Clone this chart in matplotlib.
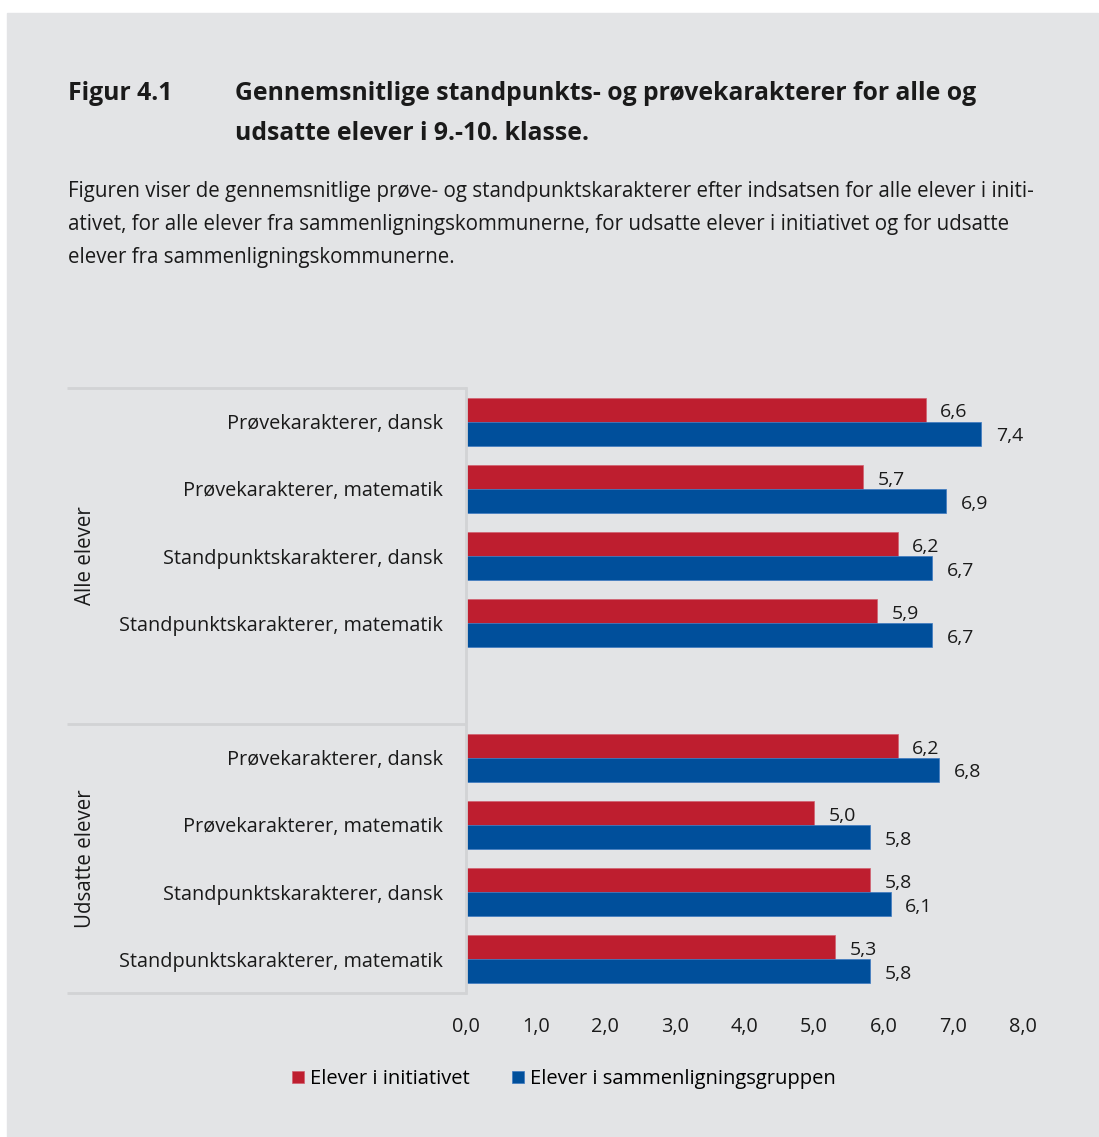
import matplotlib.pyplot as plt
from matplotlib.patches import Rectangle

# categories and values
groups = ['Alle elever', 'Udsatte elever']
categories = ['Prøvekarakterer, dansk', 'Prøvekarakterer, matematik',
              'Standpunktskarakterer, dansk', 'Standpunktskarakterer, matematik']
initiativ = [6.6, 5.7, 6.2, 5.9, 6.2, 5.0, 5.8, 5.3]
sammenligning = [7.4, 6.9, 6.7, 6.7, 6.8, 5.8, 6.1, 5.8]
series_names = ['Elever i initiativet', 'Elever i sammenligningsgruppen']
xticks = [0, 1, 2, 3, 4, 5, 6, 7, 8]

RED = '#BE1E2F'
BLUE = '#004F9B'
BG = '#E3E4E6'
LINE = '#D2D3D5'
TXT = '#1A1A1A'

plt.rcParams['font.family'] = ['Open Sans', 'DejaVu Sans']

W, H = 1099, 1137
fig = plt.figure(figsize=(W / 100, H / 100), dpi=100)
fig.patch.set_facecolor('white')
fig.patches.append(Rectangle((7 / W, 0), (1098 - 7) / W, 1 - 13 / H,
                             transform=fig.transFigure, color=BG, zorder=-10))

# title and subtitle
fig.text(68 / W, 1 - 93 / H, 'Figur 4.1', fontsize=17.8, fontweight='bold',
         va='center', color=TXT)
fig.text(235 / W, 1 - 93 / H, 'Gennemsnitlige standpunkts- og prøvekarakterer for alle og',
         fontsize=17.8, fontweight='bold', va='center', color=TXT)
fig.text(235 / W, 1 - 133 / H, 'udsatte elever i 9.-10. klasse.',
         fontsize=17.8, fontweight='bold', va='center', color=TXT)
sub = ['Figuren viser de gennemsnitlige prøve- og standpunktskarakterer efter indsatsen for alle elever i initi-',
       'ativet, for alle elever fra sammenligningskommunerne, for udsatte elever i initiativet og for udsatte',
       'elever fra sammenligningskommunerne.']
for i, line in enumerate(sub):
    fig.text(68 / W, 1 - (192 + i * 32.5) / H, line, fontsize=14.8,
             va='center', color=TXT)

# axes
left, right, top, bottom = 466, 1023, 388, 993
ax = fig.add_axes([left / W, 1 - bottom / H, (right - left) / W, (bottom - top) / H])
ax.set_facecolor('none')

# slot positions: 4 categories, one empty slot, 4 categories
pos = [0, 1, 2, 3, 5, 6, 7, 8]
labels = categories + categories
bh = 0.357
ax.barh([p - bh / 2 for p in pos], initiativ, height=bh, color=RED,
        label=series_names[0], edgecolor='#D06070', linewidth=0.5)
ax.barh([p + bh / 2 for p in pos], sammenligning, height=bh, color=BLUE,
        label=series_names[1], edgecolor='#3C78C0', linewidth=0.5)

for p, v in zip(pos, initiativ):
    ax.annotate(f'{v:.1f}'.replace('.', ','), (v, p - bh / 2), xytext=(10.5, -2),
                textcoords='offset points', va='center', ha='left',
                fontsize=14, color=TXT)
for p, v in zip(pos, sammenligning):
    ax.annotate(f'{v:.1f}'.replace('.', ','), (v, p + bh / 2), xytext=(10.5, -2),
                textcoords='offset points', va='center', ha='left',
                fontsize=14, color=TXT)

ax.set_xlim(0, 8)
ax.set_ylim(8.5, -0.5)
ax.set_yticks(pos)
ax.set_yticklabels(labels, fontsize=14.3, color=TXT)
ax.set_xticks(xticks)
ax.set_xticklabels([f'{t:.1f}'.replace('.', ',') for t in xticks], fontsize=14.3, color=TXT)
ax.tick_params(axis='both', length=0)
ax.tick_params(axis='y', pad=16.5)
ax.tick_params(axis='x', pad=17)
for s in ['top', 'right', 'bottom']:
    ax.spines[s].set_visible(False)
ax.spines['left'].set_color(LINE)
ax.spines['left'].set_linewidth(2)

# group separators extending left of the axis
x0 = (67 - left) / (right - left)
for yv in [-0.5, 4.5, 8.5]:
    ax.plot([x0, 0], [yv, yv], color=LINE, lw=2, transform=ax.get_yaxis_transform(),
            clip_on=False, solid_capstyle='butt')

# group labels
gx = (86 - left) / (right - left)
ax.text(gx, 2, groups[0], rotation=90, va='center', ha='center', fontsize=14.8,
        color=TXT, transform=ax.get_yaxis_transform())
ax.text(gx, 6.5, groups[1], rotation=90, va='center', ha='center', fontsize=14.8,
        color=TXT, transform=ax.get_yaxis_transform())

fig.legend(loc='center', bbox_to_anchor=(564 / W, 1 - 1079 / H), ncol=2,
           frameon=False, fontsize=14.5, handlelength=0.6, handleheight=0.6,
           handletextpad=0.3, columnspacing=2.1)

fig.savefig('out.png', dpi=100, facecolor=fig.get_facecolor())
